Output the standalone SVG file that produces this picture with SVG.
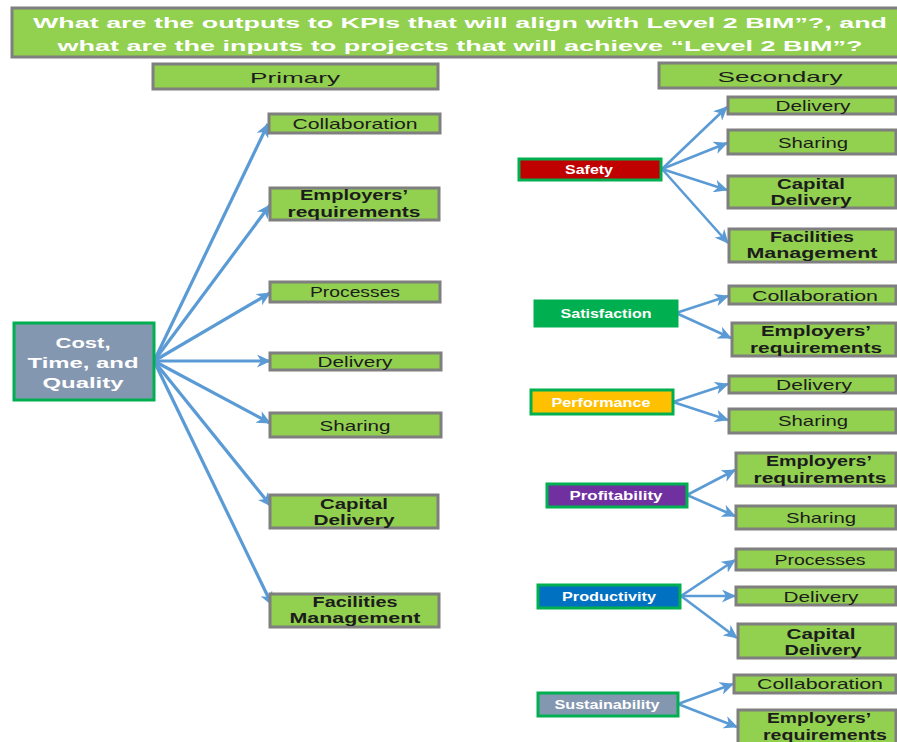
<svg xmlns="http://www.w3.org/2000/svg" width="897" height="742" viewBox="0 0 897 742">
  <style>
    .item { fill: #92D050; stroke: #7F7F7F; stroke-width: 3; }
    .kpi { stroke: #00B050; stroke-width: 3; }
    .t { font-family: "Liberation Sans", Arial, sans-serif; fill: #1C1C1C; text-anchor: middle; font-size: 15px; }
    .b { font-weight: bold; }
    .w { fill: #FFFFFF; font-weight: bold; }
    .k { font-size: 12.5px; }
    .link { stroke: #5B9BD5; stroke-width: 3.2; fill: none; marker-end: url(#arrow); }
    .link2 { stroke: #5B9BD5; stroke-width: 2.6; fill: none; marker-end: url(#arrow); }
  </style>
  <defs>
    <marker id="arrow" markerUnits="userSpaceOnUse" markerWidth="15" markerHeight="13" refX="13" refY="6.5" orient="auto">
      <path d="M0,0 L14,6.5 L0,13 L4,6.5 z" fill="#5B9BD5"/>
    </marker>
  </defs>
  <rect width="897" height="742" fill="#FFFFFF"/>

  <!-- heading -->
  <g id="title">
    <rect x="12" y="8" width="892" height="49" class="item"/>
    <text x="460" y="28" class="t w" font-size="20" textLength="854" lengthAdjust="spacingAndGlyphs">What are the outputs to KPIs that will align with Level 2 BIM”?, and</text>
    <text x="460" y="51" class="t w" font-size="20" textLength="805" lengthAdjust="spacingAndGlyphs">what are the inputs to projects that will achieve “Level 2 BIM”?</text>
  </g>
  <g id="hdr-primary">
    <rect x="153" y="64" width="285" height="25" class="item"/>
    <text x="295" y="83" class="t" font-size="20" textLength="90" lengthAdjust="spacingAndGlyphs">Primary</text>
  </g>
  <g id="hdr-secondary">
    <rect x="659" y="63" width="240" height="25" class="item"/>
    <text x="780" y="82" class="t" font-size="20" textLength="125" lengthAdjust="spacingAndGlyphs">Secondary</text>
  </g>

  <!-- connectors -->
  <g id="connectors">
    <line x1="154" y1="361" x2="268" y2="124" class="link"/>
    <line x1="154" y1="361" x2="270" y2="205" class="link"/>
    <line x1="154" y1="361" x2="270" y2="293" class="link"/>
    <line x1="154" y1="361" x2="270" y2="361" class="link"/>
    <line x1="154" y1="361" x2="270" y2="423" class="link"/>
    <line x1="154" y1="361" x2="271" y2="506" class="link"/>
    <line x1="154" y1="361" x2="272" y2="605" class="link"/>

    <line x1="662" y1="169" x2="727" y2="107" class="link2"/>
    <line x1="662" y1="169" x2="727" y2="143" class="link2"/>
    <line x1="662" y1="169" x2="727" y2="190" class="link2"/>
    <line x1="662" y1="169" x2="728" y2="243" class="link2"/>

    <line x1="676" y1="313" x2="728" y2="296" class="link2"/>
    <line x1="676" y1="313" x2="731" y2="338" class="link2"/>

    <line x1="673" y1="402" x2="728" y2="384" class="link2"/>
    <line x1="673" y1="402" x2="728" y2="420" class="link2"/>

    <line x1="687" y1="495" x2="735" y2="470" class="link2"/>
    <line x1="687" y1="495" x2="735" y2="516" class="link2"/>

    <line x1="681" y1="596" x2="735" y2="560" class="link2"/>
    <line x1="681" y1="596" x2="735" y2="596" class="link2"/>
    <line x1="681" y1="596" x2="737" y2="638" class="link2"/>

    <line x1="678" y1="704" x2="733" y2="684" class="link2"/>
    <line x1="678" y1="704" x2="737" y2="727" class="link2"/>
  </g>

  <!-- primary source -->
  <g id="ctq">
    <rect x="14" y="323" width="140" height="77" fill="#8497B0" class="kpi"/>
    <text x="83" y="348" class="t w" font-size="18" textLength="55" lengthAdjust="spacingAndGlyphs">Cost,</text>
    <text x="83" y="368" class="t w" font-size="18" textLength="111" lengthAdjust="spacingAndGlyphs">Time, and</text>
    <text x="83" y="388" class="t w" font-size="18" textLength="81" lengthAdjust="spacingAndGlyphs">Quality</text>
  </g>

  <!-- primary items -->
  <g id="p-collaboration">
    <rect x="269" y="114" width="171" height="19" class="item"/>
    <text x="355" y="128.5" class="t" textLength="125" lengthAdjust="spacingAndGlyphs">Collaboration</text>
  </g>
  <g id="p-employers">
    <rect x="270" y="188" width="169" height="32" class="item"/>
    <text x="354" y="200" class="t b" textLength="108" lengthAdjust="spacingAndGlyphs">Employers’</text>
    <text x="354" y="216.5" class="t b" textLength="133" lengthAdjust="spacingAndGlyphs">requirements</text>
  </g>
  <g id="p-processes">
    <rect x="270" y="282" width="170" height="20" class="item"/>
    <text x="355" y="296.5" class="t" textLength="90" lengthAdjust="spacingAndGlyphs">Processes</text>
  </g>
  <g id="p-delivery">
    <rect x="270" y="353" width="171" height="17" class="item"/>
    <text x="355" y="366.5" class="t" textLength="75" lengthAdjust="spacingAndGlyphs">Delivery</text>
  </g>
  <g id="p-sharing">
    <rect x="270" y="413" width="171" height="24" class="item"/>
    <text x="355" y="430.5" class="t" textLength="71" lengthAdjust="spacingAndGlyphs">Sharing</text>
  </g>
  <g id="p-capital">
    <rect x="270" y="495" width="168" height="33" class="item"/>
    <text x="354" y="508.5" class="t b" textLength="68" lengthAdjust="spacingAndGlyphs">Capital</text>
    <text x="354" y="525" class="t b" textLength="81" lengthAdjust="spacingAndGlyphs">Delivery</text>
  </g>
  <g id="p-facilities">
    <rect x="270" y="594" width="169" height="33" class="item"/>
    <text x="355" y="606.5" class="t b" textLength="85" lengthAdjust="spacingAndGlyphs">Facilities</text>
    <text x="355" y="623" class="t b" textLength="131" lengthAdjust="spacingAndGlyphs">Management</text>
  </g>

  <!-- secondary KPIs -->
  <g id="safety">
    <rect x="519" y="159" width="142" height="21" fill="#C00000" class="kpi"/>
    <text x="589" y="173.5" class="t w k" textLength="48" lengthAdjust="spacingAndGlyphs">Safety</text>
  </g>
  <g id="satisfaction">
    <rect x="535" y="301" width="142" height="25" fill="#00B050" class="kpi"/>
    <text x="606" y="317.5" class="t w k" textLength="91" lengthAdjust="spacingAndGlyphs">Satisfaction</text>
  </g>
  <g id="performance">
    <rect x="531" y="390" width="142" height="24" fill="#FFC000" class="kpi"/>
    <text x="601" y="406.5" class="t w k" textLength="99" lengthAdjust="spacingAndGlyphs">Performance</text>
  </g>
  <g id="profitability">
    <rect x="547" y="484" width="140" height="23" fill="#7030A0" class="kpi"/>
    <text x="616" y="499.5" class="t w k" textLength="93" lengthAdjust="spacingAndGlyphs">Profitability</text>
  </g>
  <g id="productivity">
    <rect x="538" y="585" width="142" height="23" fill="#0070C0" class="kpi"/>
    <text x="609" y="600.5" class="t w k" textLength="94" lengthAdjust="spacingAndGlyphs">Productivity</text>
  </g>
  <g id="sustainability">
    <rect x="538" y="693" width="140" height="23" fill="#8497B0" class="kpi"/>
    <text x="607" y="708.5" class="t w k" textLength="105" lengthAdjust="spacingAndGlyphs">Sustainability</text>
  </g>

  <!-- secondary items -->
  <g id="s-safety-delivery">
    <rect x="728" y="97" width="168" height="17" class="item"/>
    <text x="813" y="110.5" class="t" textLength="75" lengthAdjust="spacingAndGlyphs">Delivery</text>
  </g>
  <g id="s-safety-sharing">
    <rect x="728" y="130" width="168" height="24" class="item"/>
    <text x="813" y="147.5" class="t" textLength="70" lengthAdjust="spacingAndGlyphs">Sharing</text>
  </g>
  <g id="s-safety-capital">
    <rect x="728" y="176" width="168" height="32" class="item"/>
    <text x="811" y="188.5" class="t b" textLength="68" lengthAdjust="spacingAndGlyphs">Capital</text>
    <text x="811" y="205" class="t b" textLength="81" lengthAdjust="spacingAndGlyphs">Delivery</text>
  </g>
  <g id="s-safety-facilities">
    <rect x="729" y="229" width="167" height="33" class="item"/>
    <text x="812" y="241.5" class="t b" textLength="84" lengthAdjust="spacingAndGlyphs">Facilities</text>
    <text x="812" y="258" class="t b" textLength="131" lengthAdjust="spacingAndGlyphs">Management</text>
  </g>
  <g id="s-satisfaction-collaboration">
    <rect x="729" y="286" width="167" height="18" class="item"/>
    <text x="815" y="300.5" class="t" textLength="126" lengthAdjust="spacingAndGlyphs">Collaboration</text>
  </g>
  <g id="s-satisfaction-employers">
    <rect x="732" y="323" width="164" height="33" class="item"/>
    <text x="816" y="336" class="t b" textLength="110" lengthAdjust="spacingAndGlyphs">Employers’</text>
    <text x="816" y="352.5" class="t b" textLength="132" lengthAdjust="spacingAndGlyphs">requirements</text>
  </g>
  <g id="s-performance-delivery">
    <rect x="729" y="376" width="167" height="17" class="item"/>
    <text x="814" y="389.5" class="t" textLength="76" lengthAdjust="spacingAndGlyphs">Delivery</text>
  </g>
  <g id="s-performance-sharing">
    <rect x="729" y="409" width="167" height="24" class="item"/>
    <text x="813" y="425.5" class="t" textLength="70" lengthAdjust="spacingAndGlyphs">Sharing</text>
  </g>
  <g id="s-profitability-employers">
    <rect x="736" y="453" width="160" height="33" class="item"/>
    <text x="819" y="466" class="t b" textLength="106" lengthAdjust="spacingAndGlyphs">Employers’</text>
    <text x="820" y="482.5" class="t b" textLength="133" lengthAdjust="spacingAndGlyphs">requirements</text>
  </g>
  <g id="s-profitability-sharing">
    <rect x="736" y="506" width="160" height="23" class="item"/>
    <text x="821" y="522.5" class="t" textLength="70" lengthAdjust="spacingAndGlyphs">Sharing</text>
  </g>
  <g id="s-productivity-processes">
    <rect x="736" y="549" width="160" height="21" class="item"/>
    <text x="820" y="564.5" class="t" textLength="91" lengthAdjust="spacingAndGlyphs">Processes</text>
  </g>
  <g id="s-productivity-delivery">
    <rect x="736" y="587" width="160" height="18" class="item"/>
    <text x="821" y="601.5" class="t" textLength="75" lengthAdjust="spacingAndGlyphs">Delivery</text>
  </g>
  <g id="s-productivity-capital">
    <rect x="738" y="624" width="158" height="34" class="item"/>
    <text x="821" y="638.5" class="t b" textLength="69" lengthAdjust="spacingAndGlyphs">Capital</text>
    <text x="823" y="655" class="t b" textLength="77" lengthAdjust="spacingAndGlyphs">Delivery</text>
  </g>
  <g id="s-sustainability-collaboration">
    <rect x="734" y="675" width="162" height="18" class="item"/>
    <text x="820" y="688.5" class="t" textLength="126" lengthAdjust="spacingAndGlyphs">Collaboration</text>
  </g>
  <g id="s-sustainability-employers">
    <rect x="738" y="710" width="158" height="40" class="item"/>
    <text x="819" y="723" class="t b" textLength="104" lengthAdjust="spacingAndGlyphs">Employers’</text>
    <text x="825" y="740" class="t b" textLength="124" lengthAdjust="spacingAndGlyphs">requirements</text>
  </g>
</svg>
